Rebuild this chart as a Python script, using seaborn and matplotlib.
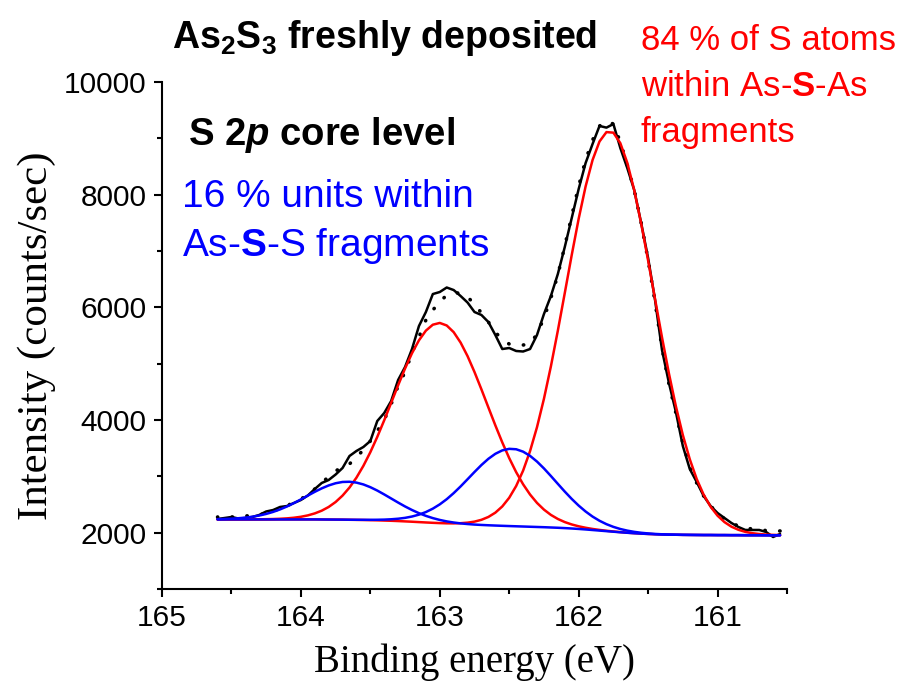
import numpy as np
import pandas as pd
import matplotlib
matplotlib.use("Agg")
import matplotlib.pyplot as plt
import seaborn as sns
from matplotlib.ticker import MultipleLocator

# binding energy grid of the scan (eV), 0.05 eV step
energy = np.round(164.60 - 0.05 * np.arange(82), 2)

# measured S 2p spectrum (counts/sec)
counts = [2243, 2260, 2278, 2251, 2260, 2278, 2314, 2376, 2402, 2456,
          2473, 2527, 2580, 2660, 2775, 2882, 2935, 3032, 3148, 3361,
          3450, 3521, 3627, 3982, 4124, 4337, 4710, 4941, 5260, 5668,
          5917, 6236, 6272, 6352, 6307, 6201, 6085, 5917, 5864, 5739,
          5509, 5260, 5278, 5225, 5216, 5260, 5509, 5881, 6201, 6591,
          7071, 7585, 8100, 8562, 8899, 9220, 9190, 9254, 8828, 8473,
          8082, 7497, 6875, 6130, 5242, 4657, 4142, 3538, 3130, 2899,
          2651, 2473, 2349, 2260, 2172, 2101, 2048, 2048, 2048, 2012,
          1923, 1977]

# fit envelope (dotted)
envelope = [2278, 2278, 2278, 2287, 2296, 2305, 2314, 2349, 2385, 2420,
            2473, 2544, 2598, 2669, 2775, 2890, 2988, 3095, 3166, 3219,
            3343, 3467, 3627, 3805, 4000, 4284, 4603, 4852, 5189, 5473,
            5775, 5952, 6094, 6219, 6254, 6254, 6183, 6059, 5899, 5739,
            5562, 5420, 5349, 5331, 5331, 5349, 5527, 5811, 6166, 6574,
            7088, 7621, 8153, 8615, 8970, 9218, 9307, 9254, 8935, 8526,
            8082, 7497, 6840, 6094, 5278, 4639, 4124, 3592, 3166, 2882,
            2651, 2473, 2349, 2243, 2172, 2118, 2083, 2065, 2048, 2038,
            2030, 2030]

# Shirley type background under the fit
background = [2235] * 15 + [
    2234, 2233, 2232, 2231, 2229, 2227, 2225, 2222, 2219, 2215,
    2211, 2206, 2200, 2194, 2187, 2180, 2173, 2166, 2159, 2153,
    2147, 2142, 2137, 2133, 2129, 2125, 2121, 2117, 2113, 2109,
    2105, 2101, 2097, 2092, 2087, 2081, 2074, 2066, 2057, 2047,
    2037, 2027, 2017, 2007, 1998, 1990, 1983, 1977, 1972, 1968,
    1965, 1963, 1961, 1960] + [
    1959, 1958, 1958, 1957, 1957, 1956, 1956, 1955, 1955, 1955,
    1954, 1954, 1954]

# fitted doublet components: As-S-S (blue) and As-S-As (red)
peak_centre = [163.66, 162.48, 163.00, 161.775]
peak_height = [675, 1374, 3557, 7106]
peak_sigma = [0.30, 0.31, 0.34, 0.315]
peak_colour = ["blue", "blue", "red", "red"]

x_ticks = [165, 164, 163, 162, 161]
x_labels = ["165", "164", "163", "162", "161"]
y_ticks = [2000, 4000, 6000, 8000, 10000]
y_labels = ["2000", "4000", "6000", "8000", "10000"]

sns.set_style("ticks")
plt.rcParams['font.family'] = ['Liberation Sans', 'DejaVu Sans']
plt.rcParams['text.color'] = 'black'
plt.rcParams['axes.labelcolor'] = 'black'
plt.rcParams['mathtext.fontset'] = 'custom'
plt.rcParams['mathtext.rm'] = 'Liberation Sans'
plt.rcParams['mathtext.bf'] = 'Liberation Sans:bold'
plt.rcParams['mathtext.it'] = 'Liberation Sans:italic:bold'

df = pd.DataFrame({"energy": energy, "counts": counts,
                   "envelope": envelope, "background": background})
for i in range(4):
    g = np.exp(-0.5 * ((df["energy"] - peak_centre[i]) / peak_sigma[i]) ** 2)
    df["peak%d" % i] = df["background"] + peak_height[i] * g

fig = plt.figure(figsize=(9.03, 6.96), dpi=100)
ax = fig.add_axes([162 / 903, 1 - 589 / 696, 625 / 903, 507 / 696])

sns.lineplot(data=df, x="energy", y="counts", color="black", lw=1.8, ax=ax)
sns.lineplot(data=df, x="energy", y="envelope", color="black", lw=2.6,
             linestyle=(0, (0.1, 4.0)), dash_capstyle="round", ax=ax)
for i in [2, 3, 0, 1]:
    sns.lineplot(data=df, x="energy", y="peak%d" % i, color=peak_colour[i],
                 lw=1.8, ax=ax)

ax.set_xlim(165, 160.5)
ax.set_ylim(1000, 10000)
ax.set_xticks(x_ticks)
ax.set_xticklabels(x_labels)
ax.set_yticks(y_ticks)
ax.set_yticklabels(y_labels)
ax.xaxis.set_minor_locator(MultipleLocator(0.5))
ax.yaxis.set_minor_locator(MultipleLocator(1000))
ax.tick_params(which="major", length=6, width=1.5, labelsize=21.5, pad=5,
               color="black", labelcolor="black")
ax.tick_params(which="minor", length=3.3, width=1.5, color="black")

sns.despine(ax=ax)
for s in ["left", "bottom"]:
    ax.spines[s].set_linewidth(1.5)
    ax.spines[s].set_color("black")

ax.set_xlabel("Binding energy (eV)", fontfamily="Liberation Serif",
              fontsize=28, labelpad=8, color="black")
ax.set_ylabel("Intensity (counts/sec)", fontfamily="Liberation Serif",
              fontsize=31, labelpad=6, color="black")

fig.text(172 / 903, 1 - 48 / 696, r"As$_\mathbf{2}$S$_\mathbf{3}$ freshly deposited",
         fontsize=27, fontweight="bold", va="baseline")
fig.text(188 / 903, 1 - 145 / 696, r"S 2$p$ core level",
         fontsize=27.5, fontweight="bold", va="baseline")
fig.text(182 / 903, 1 - 207 / 696, "16 % units within",
         fontsize=28, color="blue", va="baseline")
fig.text(182 / 903, 1 - 256 / 696, r"As-$\mathbf{S}$-S fragments",
         fontsize=28, color="blue", va="baseline")
fig.text(641 / 903, 1 - 50 / 696, "84 % of S atoms",
         fontsize=25, color="red", va="baseline")
fig.text(641 / 903, 1 - 96 / 696, r"within As-$\mathbf{S}$-As",
         fontsize=25, color="red", va="baseline")
fig.text(641 / 903, 1 - 142 / 696, "fragments",
         fontsize=25, color="red", va="baseline")

fig.savefig("out.png", dpi=100)
